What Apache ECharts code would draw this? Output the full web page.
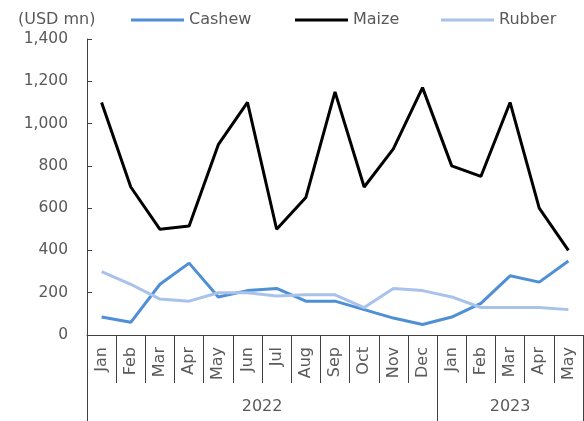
<!DOCTYPE html>
<html>
<head>
<meta charset="utf-8">
<script src="https://cdn.jsdelivr.net/npm/echarts@6/dist/echarts.min.js"></script>
<style>
html,body{margin:0;padding:0;background:#fff;}
#chart{width:584px;height:421px;}
</style>
</head>
<body>
<div id="chart"></div>
<script>
const months = ['Jan','Feb','Mar','Apr','May','Jun','Jul','Aug','Sep','Oct','Nov','Dec','Jan','Feb','Mar','Apr','May'];
const years = ['2022','2023'];
const yearStartIdx = [0, 12];
const cashew = [85, 60, 240, 340, 180, 210, 220, 160, 160, 120, 80, 50, 85, 150, 280, 250, 350];
const maize  = [1100, 700, 500, 515, 900, 1100, 500, 650, 1150, 700, 880, 1170, 800, 750, 1100, 600, 400];
const rubber = [300, 240, 170, 160, 200, 200, 185, 190, 190, 130, 220, 210, 180, 130, 130, 130, 120];

const FONT = 'DejaVu Sans';
const TXT = '#595959';
const AX = '#404040';

// half-step category axis for year grouping
const n = months.length;
const halfCats = [];
const yearLabelAt = {};
const yearTickAt = {};
yearStartIdx.forEach((s, i) => {
  const e = i + 1 < yearStartIdx.length ? yearStartIdx[i + 1] : n;
  yearLabelAt[s + e] = years[i];   // midpoint in half-steps
  yearTickAt[2 * s] = true;
  yearTickAt[2 * e] = true;
});
for (let k = 0; k <= 2 * n; k++) halfCats.push(yearLabelAt[k] || '');

const chart = echarts.init(document.getElementById('chart'), null, {renderer: 'canvas'});
chart.setOption({
  animation: false,
  backgroundColor: '#fff',
  textStyle: {fontFamily: FONT},
  title: {
    text: '(USD mn)', left: 13, top: 7,
    textStyle: {fontFamily: FONT, fontSize: 16, fontWeight: 'normal', color: TXT}
  },
  legend: [
    {data: ['Cashew'], left: 126, top: 7, icon: 'rect', itemWidth: 53, itemHeight: 3,
     textStyle: {fontFamily: FONT, fontSize: 16, color: TXT}},
    {data: ['Maize'], left: 290, top: 7, icon: 'rect', itemWidth: 53, itemHeight: 3,
     textStyle: {fontFamily: FONT, fontSize: 16, color: TXT}},
    {data: ['Rubber'], left: 436, top: 7, icon: 'rect', itemWidth: 53, itemHeight: 3,
     textStyle: {fontFamily: FONT, fontSize: 16, color: TXT}}
  ],
  grid: {left: 87, right: 1, top: 39, bottom: 86, containLabel: false},
  xAxis: [
    {
      type: 'category', data: months, boundaryGap: true, position: 'bottom',
      axisLine: {show: true, lineStyle: {color: AX, width: 1}},
      axisTick: {show: true, interval: 0, length: 48, lineStyle: {color: AX}},
      axisLabel: {interval: 0, rotate: 90, margin: 12, fontFamily: FONT, fontSize: 16, color: TXT},
      splitLine: {show: false}
    },
    {
      type: 'category', data: halfCats, boundaryGap: false, position: 'bottom',
      axisLine: {show: false},
      axisTick: {show: true, length: 90, lineStyle: {color: AX},
        interval: function (idx) { return !!yearTickAt[idx]; }},
      axisLabel: {interval: function (idx, v) { return v !== ''; }, margin: 64,
        fontFamily: FONT, fontSize: 16, color: TXT},
      splitLine: {show: false}
    }
  ],
  yAxis: {
    type: 'value', min: 0, max: 1400, interval: 200,
    axisLine: {show: true, lineStyle: {color: AX, width: 1}},
    axisTick: {show: true, inside: true, length: 5, lineStyle: {color: AX}},
    axisLabel: {margin: 19, fontFamily: FONT, fontSize: 15.5, color: TXT},
    splitLine: {show: false}
  },
  series: [
    {name: 'Cashew', type: 'line', data: cashew, symbol: 'none', xAxisIndex: 0,
     itemStyle: {color: '#4F8FD5'}, lineStyle: {color: '#4F8FD5', width: 3}},
    {name: 'Maize', type: 'line', data: maize, symbol: 'none', xAxisIndex: 0,
     itemStyle: {color: '#000000'}, lineStyle: {color: '#000000', width: 3}},
    {name: 'Rubber', type: 'line', data: rubber, symbol: 'none', xAxisIndex: 0,
     itemStyle: {color: '#A8C2EA'}, lineStyle: {color: '#A8C2EA', width: 3}}
  ]
});
</script>
</body>
</html>
